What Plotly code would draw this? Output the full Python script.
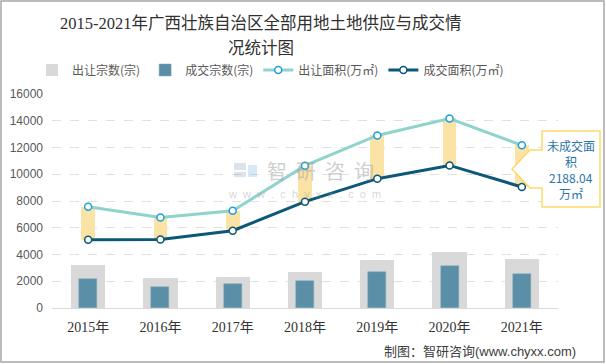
import plotly.graph_objects as go

years = ["2015年", "2016年", "2017年", "2018年", "2019年", "2020年", "2021年"]
supply_count = [3240, 2245, 2290, 2690, 3610, 4160, 3690]      # 出让宗数(宗)
deal_count = [2170, 1570, 1790, 2040, 2690, 3110, 2540]        # 成交宗数(宗)
supply_area = [7570, 6770, 7270, 10640, 12900, 14170, 12160]   # 出让面积(万㎡)
deal_area = [5110, 5130, 5780, 7950, 9670, 10660, 9050]        # 成交面积(万㎡)
unsold_lines = ["未成交面", "积", "2188.04", "万㎡"]

W, H = 606, 364
L, R, T, B = 52, 48, 94, 56
PW, PH = W - L - R, H - T - B


def px(x):
    return (x - L) / PW


def py(y):
    return (H - B - y) / PH


fig = go.Figure()
fig.add_trace(go.Bar(x=years, y=supply_count, name="出让宗数(宗)", width=0.475,
                     marker=dict(color="#D9D9D9", line=dict(width=0))))
fig.add_trace(go.Bar(x=years, y=deal_count, name="成交宗数(宗)", width=0.25,
                     marker=dict(color="#5B8FA8", line=dict(color="#7FA9BD", width=0.5))))
gap = [s - d for s, d in zip(supply_area, deal_area)]
fig.add_trace(go.Bar(x=years, y=gap, base=deal_area, width=0.19, showlegend=False,
                     marker=dict(color="#FBE3A6", line=dict(width=0)), hoverinfo="skip"))
fig.add_trace(go.Scatter(x=years, y=supply_area, name="出让面积(万㎡)", mode="lines+markers",
                         line=dict(color="#8FD3CD", width=3),
                         marker=dict(size=7, color="white", line=dict(color="#1E9FD8", width=1.5))))
fig.add_trace(go.Scatter(x=years, y=deal_area, name="成交面积(万㎡)", mode="lines+markers",
                         line=dict(color="#0B5878", width=3),
                         marker=dict(size=7, color="white", line=dict(color="#0B5878", width=1.5))))

cjk = "Noto Sans CJK SC"
serif = "Liberation Serif, Noto Sans CJK SC"

annotations = [
    dict(text="2015-2021年广西壮族自治区全部用地土地供应与成交情", x=px(261), y=py(23),
         xref="paper", yref="paper", showarrow=False, xanchor="center", yanchor="middle",
         font=dict(family=serif, size=16.5, color="#303030")),
    dict(text="况统计图", x=px(261), y=py(48),
         xref="paper", yref="paper", showarrow=False, xanchor="center", yanchor="middle",
         font=dict(family=serif, size=16.5, color="#303030")),
    dict(text="制图：智研咨询(www.chyxx.com)", x=px(578), y=py(351),
         xref="paper", yref="paper", showarrow=False, xanchor="right", yanchor="middle",
         font=dict(family="Liberation Sans, Noto Sans CJK SC", size=13, color="#404040")),
    dict(text="智  研  咨  询", x=px(320), y=py(170),
         xref="paper", yref="paper", showarrow=False, xanchor="center", yanchor="middle",
         font=dict(family=cjk, size=20, color="rgba(160,160,160,0.5)")),
    dict(text="w  w  w  .  c  h  y  x  x  .  c  o  m", x=px(304), y=py(194),
         xref="paper", yref="paper", showarrow=False, xanchor="center", yanchor="middle",
         font=dict(family="Liberation Sans", size=11, color="rgba(160,160,160,0.45)")),
]
for i, line in enumerate(unsold_lines):
    annotations.append(dict(text=line, x=px(571), y=py(145 + 16 * i),
                            xref="paper", yref="paper", showarrow=False,
                            xanchor="center", yanchor="middle",
                            font=dict(family=cjk, size=12, color="#2B73A8")))

callout = [(542, 131), (600, 131), (600, 207), (542, 207), (542, 188), (530, 188),
           (512, 169), (530, 150), (542, 150)]
path = "M " + " L ".join(f"{px(a):.4f},{py(b):.4f}" for a, b in callout) + " Z"

shapes = [
    dict(type="path", path=path, xref="paper", yref="paper",
         fillcolor="white", line=dict(color="#FFD966", width=1.5)),
    dict(type="rect", xref="paper", yref="paper", x0=px(1), x1=px(604), y0=py(1), y1=py(362),
         line=dict(color="#A6A6A6", width=1.5), fillcolor="rgba(0,0,0,0)"),
    # watermark icon (approx.)
    dict(type="rect", xref="paper", yref="paper", x0=px(234), x1=px(246), y0=py(163), y1=py(170),
         line=dict(width=0), fillcolor="rgba(120,140,180,0.25)"),
    dict(type="rect", xref="paper", yref="paper", x0=px(248), x1=px(257), y0=py(165), y1=py(177),
         line=dict(width=0), fillcolor="rgba(90,170,220,0.25)"),
    dict(type="rect", xref="paper", yref="paper", x0=px(234), x1=px(246), y0=py(172), y1=py(177),
         line=dict(width=0), fillcolor="rgba(120,140,180,0.25)"),
]

fig.update_layout(
    width=W, height=H,
    margin=dict(l=L, r=R, t=T, b=B, autoexpand=False),
    paper_bgcolor="white", plot_bgcolor="white",
    barmode="overlay", bargap=0,
    showlegend=True,
    legend=dict(orientation="h", x=px(32), y=py(70), xref="paper", yref="paper",
                xanchor="left", yanchor="middle", font=dict(family=cjk, size=12, color="#595959"),
                traceorder="normal", itemwidth=30, bgcolor="rgba(0,0,0,0)"),
    xaxis=dict(showline=True, linecolor="#D9D9D9", linewidth=1, ticks="", showgrid=False,
               tickfont=dict(family=serif, size=14, color="#333333"), ticklabelstandoff=6),
    yaxis=dict(range=[0, 16000], dtick=2000, tickformat="d", showgrid=True, gridcolor="#E0E0E0",
               griddash="dash", zeroline=False, showline=False, ticks="",
               tickfont=dict(family="Liberation Sans, Noto Sans CJK SC", size=12, color="#595959"),
               ticklabelstandoff=8),
    annotations=annotations,
    shapes=shapes,
    font=dict(family=cjk),
)

fig.write_html("out.html", config={"displayModeBar": False},
               post_script="document.body.style.margin='0';")
